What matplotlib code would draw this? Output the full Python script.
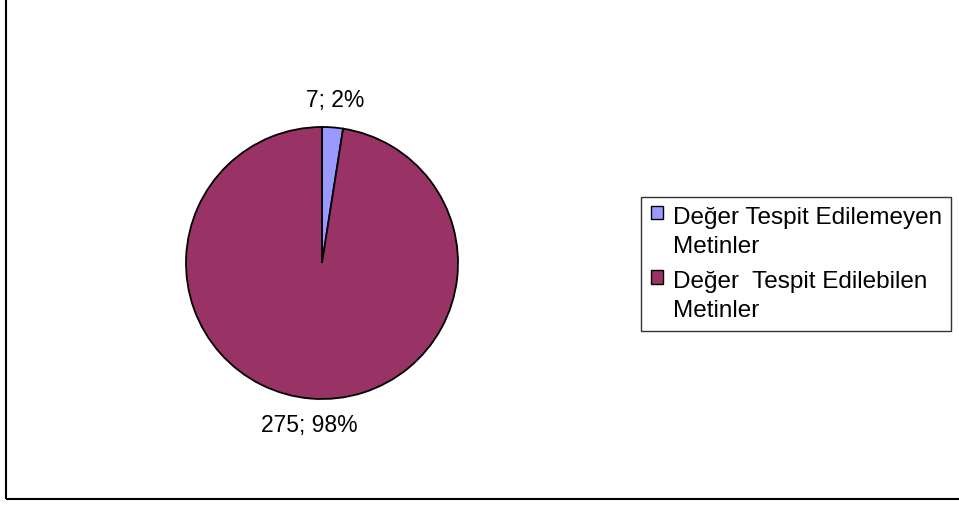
import matplotlib.pyplot as plt
import matplotlib.patches as mpatches
from matplotlib.legend_handler import HandlerPatch

categories = ['Değer Tespit Edilemeyen\nMetinler', 'Değer  Tespit Edilebilen\nMetinler']
values = [7, 275]
colors = ['#9999FF', '#993366']

plt.rcParams['font.family'] = ['Liberation Sans', 'DejaVu Sans']
FS = 16.5
LFS = 17.5

fig = plt.figure(figsize=(9.59, 5.31), dpi=100)

# outer chart frame (only left and bottom visible in the crop)
fig.patches.append(mpatches.Rectangle((6 / 959, 1 - 499 / 531), 2, 2, transform=fig.transFigure,
                                      fill=False, edgecolor='black', linewidth=1.5))

cx, cy, r = 322 / 959, 1 - 263 / 531, 136
w, h = 2 * r / 959, 2 * r / 531
ax = fig.add_axes([cx - w / 2, cy - h / 2, w, h])

total = sum(values)
labels = [f'{v}; {round(100 * v / total)}%' for v in values]
wedges, texts = ax.pie(values, colors=colors, startangle=90, counterclock=False,
                       labels=labels, labeldistance=1.2,
                       wedgeprops={'edgecolor': 'black', 'linewidth': 1.3},
                       textprops={'fontsize': FS})
for t in texts:
    t.set_horizontalalignment('center')
    t.set_verticalalignment('center')
ax.set_xlim(-1, 1)
ax.set_ylim(-1, 1)
ax.set_aspect('equal')


def top_square(legend, orig_handle, xdescent, ydescent, width, height, fontsize):
    # put the swatch next to the first line of a two-line label
    return mpatches.Rectangle((-xdescent, -ydescent + 0.8 * fontsize), width, height)


handles = [mpatches.Patch(facecolor=c, edgecolor='black', linewidth=1, label=l)
           for c, l in zip(colors, categories)]
leg = fig.legend(handles=handles, loc='upper left', bbox_to_anchor=(641 / 959, 1 - 197 / 531),
                 borderaxespad=0, fontsize=LFS, frameon=True, fancybox=False, edgecolor='black',
                 handlelength=0.5, handleheight=0.5, handletextpad=0.4, labelspacing=0.55,
                 borderpad=0.4,
                 handler_map={mpatches.Patch: HandlerPatch(patch_func=top_square)})
leg.get_frame().set_linewidth(1)
for t in leg.get_texts():
    t.set_linespacing(1.4)

fig.savefig('out.png', dpi=100)
